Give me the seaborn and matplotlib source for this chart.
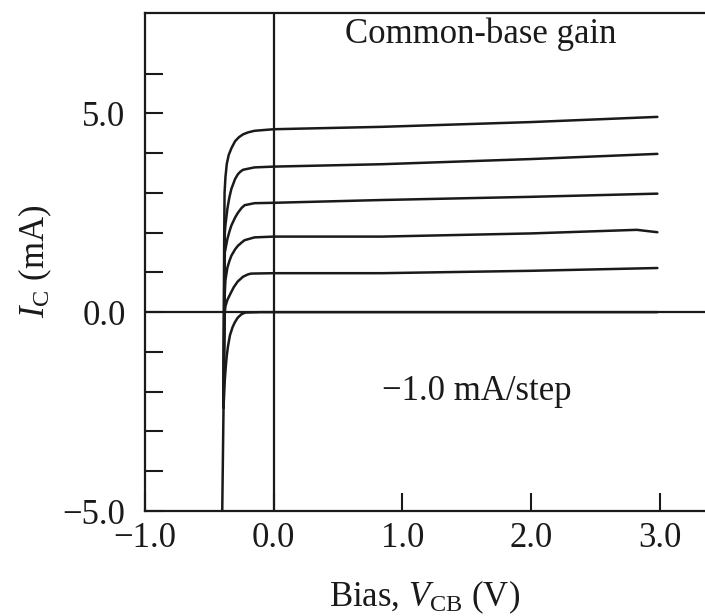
import numpy as np
import pandas as pd
import matplotlib
matplotlib.use("Agg")
import matplotlib.pyplot as plt
import seaborn as sns

# ---- data ----
v0 = [-0.40, -0.39, -0.38, -0.372, -0.365, -0.355, -0.34, -0.32, -0.303, -0.28, -0.25, -0.22, -0.10, 0.5, 1.5, 2.98]
i0 = [-5.00, -2.40, -1.70, -1.35, -1.10, -0.85, -0.58, -0.38, -0.26, -0.14, -0.05, -0.01, 0.00, 0.00, 0.00, 0.00]

v1 = [-0.39, -0.385, -0.38, -0.375, -0.36, -0.334, -0.31, -0.28, -0.239, -0.2, -0.175, 0.0, 0.84, 2.0, 2.98]
i1 = [-2.40, -1.00, 0.00, 0.15, 0.31, 0.48, 0.63, 0.77, 0.89, 0.95, 0.97, 0.98, 0.98, 1.04, 1.11]

v2 = [-0.39, -0.385, -0.38, -0.375, -0.36, -0.345, -0.329, -0.30, -0.278, -0.25, -0.226, -0.15, 0.0, 0.84, 2.0, 2.82, 2.98]
i2 = [-2.40, -0.50, 0.50, 0.81, 1.12, 1.28, 1.42, 1.58, 1.67, 1.75, 1.81, 1.88, 1.90, 1.90, 1.98, 2.07, 2.01]

v3 = [-0.39, -0.385, -0.38, -0.36, -0.345, -0.329, -0.30, -0.278, -0.25, -0.226, -0.15, 0.0, 0.84, 2.0, 2.98]
i3 = [-2.40, 0.00, 1.50, 1.84, 2.02, 2.18, 2.38, 2.50, 2.62, 2.69, 2.74, 2.75, 2.82, 2.90, 2.98]

v4 = [-0.39, -0.385, -0.38, -0.375, -0.36, -0.345, -0.329, -0.30, -0.278, -0.26, -0.239, -0.15, 0.0, 0.84, 2.0, 2.98]
i4 = [-2.40, 0.50, 2.00, 2.20, 2.60, 2.88, 3.10, 3.35, 3.47, 3.53, 3.58, 3.64, 3.66, 3.72, 3.85, 3.98]

v5 = [-0.39, -0.387, -0.385, -0.382, -0.375, -0.365, -0.35, -0.329, -0.30, -0.27, -0.239, -0.2, -0.15, 0.0, 0.84, 2.0, 2.98]
i5 = [-2.40, 0.50, 1.82, 3.00, 3.40, 3.72, 3.95, 4.12, 4.30, 4.40, 4.47, 4.52, 4.56, 4.60, 4.66, 4.78, 4.91]

x_ticks = [-1.0, 0.0, 1.0, 2.0, 3.0]
x_ticklabels = ["\u22121.0", "0.0", "1.0", "2.0", "3.0"]
y_major = [-5.0, 0.0, 5.0]
y_ticklabels = ["\u22125.0", "0.0", "5.0"]
y_minor = [-4, -3, -2, -1, 1, 2, 3, 4, 6]

curves = [(v0, i0), (v1, i1), (v2, i2), (v3, i3), (v4, i4), (v5, i5)]
rows = []
for k, (vv, ii) in enumerate(curves):
    for order, (a, b) in enumerate(zip(vv, ii)):
        rows.append({"curve": k, "order": order, "V": a, "I": b})
df = pd.DataFrame(rows)

sns.set_style("ticks")
plt.rcParams["font.family"] = ["Liberation Serif", "DejaVu Serif"]
plt.rcParams["mathtext.fontset"] = "custom"
plt.rcParams["mathtext.rm"] = "Liberation Serif"
plt.rcParams["mathtext.it"] = "Liberation Serif:italic"
plt.rcParams["mathtext.bf"] = "Liberation Serif:bold"

ink = "#1a1a1a"
fs = 25
fig = plt.figure(figsize=(7.05, 6.16), dpi=100)
ax = fig.add_axes([145 / 705, 105 / 616, 560 / 705, 498.3 / 616])

sns.lineplot(data=df, x="V", y="I", units="curve", estimator=None, sort=False,
             color=ink, linewidth=1.8, ax=ax, legend=False)

ax.axhline(0, color=ink, lw=1.6, zorder=1)
ax.axvline(0, color=ink, lw=1.6, zorder=1)

ax.set_xlim(-1.0, 3.35)
ax.set_ylim(-5.0, 7.53)

ax.set_xticks(x_ticks)
ax.set_xticklabels(x_ticklabels)
ax.set_yticks(y_major)
ax.set_yticklabels(y_ticklabels)
ax.set_yticks(y_minor, minor=True)

ax.tick_params(axis="both", which="both", direction="in", length=13, width=1.5,
               color=ink, labelsize=fs, labelcolor=ink)
ax.tick_params(axis="x", pad=8)
ax.tick_params(axis="y", pad=14)

for s in ["left", "bottom", "top"]:
    ax.spines[s].set_linewidth(1.6)
    ax.spines[s].set_color(ink)
ax.spines["right"].set_visible(False)

ax.set_xlabel(r"Bias, $V_{\mathrm{CB}}$ (V)", fontsize=fs, color=ink, labelpad=17)
ax.set_ylabel(r"$I_{\mathrm{C}}$ (mA)", fontsize=fs, color=ink, labelpad=6)

ax.text(1.61, 6.76, "Common-base gain", fontsize=fs, ha="center", va="baseline", color=ink)
ax.text(1.58, -2.2, "\u22121.0 mA/step", fontsize=fs, ha="center", va="baseline", color=ink)

fig.savefig("out.png", dpi=100)
